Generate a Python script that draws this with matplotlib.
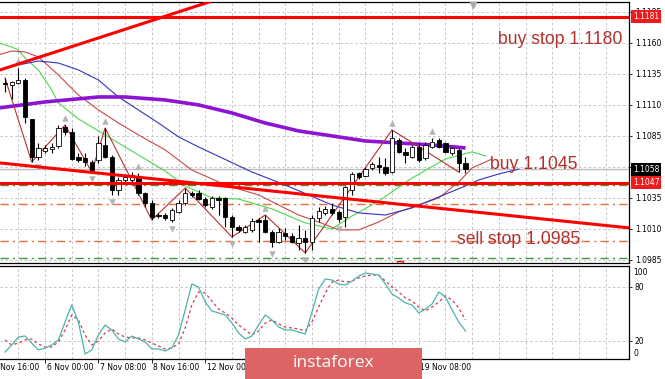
import numpy as np
import matplotlib
matplotlib.use("Agg")
import matplotlib.pyplot as plt
from matplotlib.patches import Rectangle
from matplotlib.transforms import blended_transform_factory, ScaledTranslation

# ---------------- data ----------------
opens = [1.11275, 1.11259, 1.11275, 1.11299, 1.10985, 1.10678, 1.10727, 1.10743, 1.10767, 1.10920,
         1.10880, 1.10678, 1.10670, 1.10638, 1.10654, 1.10775, 1.10678, 1.10412, 1.10493, 1.10493,
         1.10517, 1.10388, 1.10307, 1.10210, 1.10210, 1.10170, 1.10235, 1.10307, 1.10388, 1.10388,
         1.10339, 1.10275, 1.10348, 1.10348, 1.10194, 1.10114, 1.10073, 1.10090, 1.10170, 1.10170,
         1.10073, 1.09993, 1.10065, 1.10041, 1.09985, 1.10025, 1.09993, 1.10186, 1.10227, 1.10259,
         1.10235, 1.10194, 1.10412, 1.10549, 1.10525, 1.10590, 1.10614, 1.10598, 1.10557, 1.10815,
         1.10719, 1.10678, 1.10759, 1.10670, 1.10759, 1.10815, 1.10791, 1.10710, 1.10735, 1.10630]
highs = [1.11315, 1.11291, 1.11396, 1.11315, 1.10985, 1.10791, 1.10775, 1.10791, 1.10936, 1.10936,
         1.10912, 1.10710, 1.10710, 1.10654, 1.10848, 1.10912, 1.10694, 1.10517, 1.10541, 1.10557,
         1.10549, 1.10396, 1.10331, 1.10227, 1.10227, 1.10267, 1.10331, 1.10428, 1.10404, 1.10412,
         1.10356, 1.10364, 1.10364, 1.10356, 1.10210, 1.10130, 1.10130, 1.10186, 1.10186, 1.10210,
         1.10090, 1.10106, 1.10106, 1.10065, 1.10130, 1.10090, 1.10210, 1.10275, 1.10283, 1.10307,
         1.10251, 1.10444, 1.10557, 1.10557, 1.10598, 1.10638, 1.10678, 1.10670, 1.10896, 1.10831,
         1.10751, 1.10775, 1.10791, 1.10799, 1.10831, 1.10831, 1.10799, 1.10759, 1.10751, 1.10678]
lows = [1.11202, 1.11146, 1.11267, 1.10952, 1.10638, 1.10654, 1.10710, 1.10710, 1.10751, 1.10856,
        1.10654, 1.10638, 1.10606, 1.10557, 1.10630, 1.10670, 1.10372, 1.10372, 1.10477, 1.10477,
        1.10372, 1.10275, 1.10170, 1.10186, 1.10170, 1.10154, 1.10227, 1.10291, 1.10356, 1.10331,
        1.10275, 1.10259, 1.10210, 1.10114, 1.10033, 1.10073, 1.10065, 1.10073, 1.09993, 1.10065,
        1.09952, 1.09985, 1.10009, 1.09985, 1.09928, 1.09904, 1.09928, 1.10154, 1.10210, 1.10210,
        1.10154, 1.10114, 1.10372, 1.10501, 1.10517, 1.10573, 1.10549, 1.10533, 1.10549, 1.10710,
        1.10630, 1.10670, 1.10638, 1.10654, 1.10751, 1.10751, 1.10710, 1.10694, 1.10557, 1.10549]
closes = [1.11267, 1.11283, 1.11299, 1.11001, 1.10678, 1.10751, 1.10751, 1.10759, 1.10912, 1.10880,
          1.10662, 1.10654, 1.10638, 1.10573, 1.10791, 1.10678, 1.10412, 1.10493, 1.10517, 1.10533,
          1.10388, 1.10307, 1.10194, 1.10202, 1.10186, 1.10251, 1.10307, 1.10388, 1.10372, 1.10339,
          1.10291, 1.10348, 1.10331, 1.10194, 1.10114, 1.10090, 1.10114, 1.10162, 1.10154, 1.10073,
          1.09993, 1.10073, 1.10041, 1.09993, 1.10025, 1.09993, 1.10186, 1.10243, 1.10259, 1.10227,
          1.10178, 1.10436, 1.10541, 1.10517, 1.10581, 1.10622, 1.10598, 1.10549, 1.10831, 1.10719,
          1.10694, 1.10759, 1.10654, 1.10775, 1.10799, 1.10759, 1.10719, 1.10751, 1.10630, 1.10581]

# moving averages (bar index, price)
ma_purple_idx = [-1, 6, 14, 18, 24, 29, 34, 39, 44, 49, 54, 59, 64, 69]
ma_purple = [1.11073, 1.11122, 1.11162, 1.11162, 1.11138, 1.11098, 1.11033, 1.10952, 1.10888,
             1.10848, 1.10807, 1.10791, 1.10775, 1.10751]
ma_blue_idx = [-1, 2, 5, 8, 11, 14, 17, 20, 23, 26, 29, 37, 42, 49, 53, 57, 61, 65, 69, 71, 74, 77]
ma_blue = [1.11380, 1.11420, 1.11452, 1.11436, 1.11380, 1.11299, 1.11162, 1.11057, 1.10952, 1.10840,
           1.10759, 1.10557, 1.10452, 1.10291, 1.10227, 1.10210, 1.10267, 1.10356, 1.10444, 1.10493,
           1.10541, 1.10581]
ma_green_idx = [-1, 1, 2, 3, 5, 7, 8, 11, 14, 17, 20, 24, 27, 31, 35, 40, 45, 49, 52, 56, 61, 66, 70, 72]
ma_green = [1.11598, 1.11565, 1.11541, 1.11477, 1.11380, 1.11219, 1.11114, 1.10985, 1.10888, 1.10791,
            1.10694, 1.10565, 1.10444, 1.10348, 1.10339, 1.10259, 1.10146, 1.10098, 1.10202, 1.10323,
            1.10509, 1.10662, 1.10719, 1.10686]
ma_red_idx = [-1, 1, 3, 5, 8, 11, 14, 17, 20, 24, 28, 33, 38, 44, 47, 50, 53, 56, 59, 65, 68, 70, 73]
ma_red = [1.11501, 1.11533, 1.11525, 1.11485, 1.11340, 1.11178, 1.11057, 1.10952, 1.10856, 1.10735,
          1.10573, 1.10452, 1.10372, 1.10210, 1.10154, 1.10090, 1.10090, 1.10154, 1.10235, 1.10348,
          1.10477, 1.10590, 1.10662]

# zigzag
zz_idx = [0, 4, 9, 13, 15, 22, 27, 34, 39, 45, 58, 68]
zz_price = [1.11315, 1.10638, 1.10936, 1.10557, 1.10912, 1.10170, 1.10428, 1.10033, 1.10210,
            1.09904, 1.10896, 1.10557]

# fractals
fractal_up_idx = [2, 9, 15, 20, 39, 58, 64]
fractal_down_idx = [5, 13, 16, 25, 34, 40, 45, 50]

# levels
red_levels = [1.1181, 1.1047]
bid_level = 1.1058
green_levels = [1.1045, 1.0986]
orange_levels = [1.1030, 1.1000]
trend_down = [(-0.75, 1.10630), (93.55, 1.10106)]
trend_up = [(-0.75, 1.11380), (29.2, 1.11904)]

price_ticks = [1.0985, 1.1010, 1.1035, 1.1060, 1.1085, 1.1110, 1.1135, 1.1160, 1.1185]

# stochastic
stoch_main = [7.4, 15.2, 24.1, 25.2, 17.4, 9.7, 11.9, 15.2, 20.8, 40.8,
              59.7, 40.8, 5.2, 9.7, 26.3, 37.4, 31.9, 21.9, 18.6, 25.2,
              21.9, 18.6, 10.8, 10.8, 8.6, 11.9, 26.3, 54.1, 83.0, 79.7,
              63.0, 53.0, 50.8, 48.6, 39.7, 28.6, 21.9, 25.2, 37.4, 48.6,
              43.0, 35.2, 31.9, 31.9, 29.7, 27.4, 51.9, 77.4, 88.6, 87.4,
              83.0, 81.9, 86.3, 91.9, 95.2, 94.1, 93.0, 83.0, 71.9, 67.4,
              61.9, 59.7, 50.8, 55.2, 60.8, 74.1, 68.6, 54.1, 40.8, 30.8]
stoch_signal = [20.8, 15.2, 17.4, 20.8, 21.9, 16.3, 13.0, 13.0, 18.6, 31.9,
                48.6, 43.0, 26.3, 15.2, 19.7, 28.6, 33.0, 27.4, 24.1, 23.0,
                23.0, 20.8, 17.4, 14.1, 10.8, 11.9, 16.3, 34.1, 59.7, 74.1,
                73.0, 64.1, 55.2, 50.8, 45.2, 37.4, 31.9, 26.3, 30.8, 39.7,
                43.0, 38.6, 35.2, 34.1, 33.0, 30.8, 40.8, 57.4, 73.0, 85.2,
                87.4, 85.2, 86.3, 89.7, 91.9, 93.0, 93.0, 86.3, 79.7, 74.1,
                67.4, 64.1, 57.4, 53.0, 57.4, 63.0, 69.7, 65.2, 56.3, 43.0]

time_label_idx = [-2, 6, 14, 22, 30, 38, 46, 54, 62]
time_labels = ["2 Nov 16:00", "6 Nov 00:00", "7 Nov 08:00", "8 Nov 16:00", "12 Nov 00:00",
               "13 Nov 08:00", "14 Nov 16:00", "16 Nov 00:00", "19 Nov 08:00"]

# ---------------- figure ----------------
W, H = 665, 379
fig = plt.figure(figsize=(W / 100, H / 100), dpi=100)
fig.patch.set_facecolor("white")


def fx(px):
    return px / W


def fy(py):
    return 1 - py / H


AX_R = 629.3
ax = fig.add_axes([0, fy(263), fx(AX_R), fy(2) - fy(263)])
ax2 = fig.add_axes([0, fy(358.5), fx(AX_R), fy(266) - fy(358.5)])

XMIN, XMAX = -0.75, 93.55
n = len(opens)
xs = np.arange(n)

grid_kw = dict(color="#c4c4c4", lw=0.7, ls=(0, (2.5, 2.5)), zorder=0)
vgrid = np.arange(2, 94, 4)
for a in (ax, ax2):
    for g in vgrid:
        a.axvline(g, **grid_kw)
    a.set_xlim(XMIN, XMAX)
    a.set_facecolor("white")
    for s in ("top", "bottom", "right"):
        a.spines[s].set_color("black")
        a.spines[s].set_linewidth(0.9)
    a.spines["left"].set_visible(False)

for lv in price_ticks:
    ax.axhline(lv, **grid_kw)

ax.set_ylim(1.09823, 1.11928)

# levels
for lv in orange_levels:
    ax.axhline(lv, color="#e8703a", lw=1.0, ls=(0, (6, 3, 1.5, 3)), zorder=1)
for lv in green_levels:
    ax.axhline(lv, color="#3c9a3c", lw=1.0, ls=(0, (6, 3, 1.5, 3)), zorder=1)
ax.axhline(bid_level, color="#bdbdbd", lw=1.0, zorder=1)

# moving averages
ax.plot(ma_green_idx, ma_green, color="#4cd84c", lw=0.8, zorder=2)
ax.plot(ma_red_idx, ma_red, color="#c84848", lw=0.8, zorder=2)
ax.plot(ma_blue_idx, ma_blue, color="#3434c0", lw=0.8, zorder=2)
ax.plot(ma_purple_idx, ma_purple, color="#8c14d2", lw=2.6, zorder=2, solid_capstyle="butt")

# zigzag
ax.plot(zz_idx, zz_price, color="#b83030", lw=0.8, zorder=3)

# candles
for i in range(n):
    o, h, l, c = opens[i], highs[i], lows[i], closes[i]
    ax.plot([i, i], [l, h], color="black", lw=0.8, zorder=4, solid_capstyle="butt")
bull = [c >= o for o, c in zip(opens, closes)]
bottoms = [min(o, c) for o, c in zip(opens, closes)]
heights = [max(abs(c - o), 0.000015) for o, c in zip(opens, closes)]
ax.bar(xs, heights, bottom=bottoms, width=0.64,
       color=["white" if b else "black" for b in bull],
       edgecolor="black", linewidth=0.6, zorder=5)

# fractals
FR_OFF = 0.00055
ax.scatter(fractal_up_idx, [highs[i] + FR_OFF for i in fractal_up_idx], marker="^",
           s=22, color="#b4b4b4", zorder=6, linewidths=0)
ax.scatter(fractal_down_idx, [lows[i] - FR_OFF for i in fractal_down_idx], marker="v",
           s=22, color="#b4b4b4", zorder=6, linewidths=0)

# red lines
for lv in red_levels:
    ax.axhline(lv, color="#ff0000", lw=2.2, zorder=7)
ax.axline(trend_down[0], trend_down[1], color="#ff0000", lw=2.2, zorder=7)
ax.axline(trend_up[0], trend_up[1], color="#ff0000", lw=2.2, zorder=7)

# small markers
ax.scatter([70.2], [1.11904], marker="v", s=18, color="#a8a8a8", zorder=8, clip_on=False)
ax.scatter([59.2], [1.09815], marker="s", s=22, facecolor="none", edgecolor="#ff0000",
           linewidths=1.0, zorder=8)

# y axis right
ax.yaxis.tick_right()
ax.set_yticks(price_ticks)
ax.set_yticklabels(["%.4f" % v for v in price_ticks])
ax.tick_params(axis="y", labelsize=5.5, length=2.5, width=0.6, pad=1.5, colors="black")
ax.set_xticks([])

bt = blended_transform_factory(ax.transAxes, ax.transData)
box_specs = [(1.1181, "1.1181", "#ee1c1c"), (1.1058, "1.1058", "black"), (1.1047, "1.1047", "#ee1c1c")]
for val, txt, col in box_specs:
    ax.text(1.0 + 3.5 / AX_R, val, txt, transform=bt, ha="left", va="center", fontsize=5.5,
            color="white", zorder=20, clip_on=False,
            bbox=dict(boxstyle="square,pad=0.25", fc=col, ec="none"))

# annotations
tc = "#b3302e"
fs = 12.7
fig.text(fx(498), fy(39.5), "buy stop 1.1180", color=tc, fontsize=fs, family="Liberation Sans",
         ha="left", va="center")
fig.text(fx(490), fy(164.5), "buy 1.1045", color=tc, fontsize=fs, family="Liberation Sans",
         ha="left", va="center")
fig.text(fx(457), fy(239.5), "sell stop 1.0985", color=tc, fontsize=fs, family="Liberation Sans",
         ha="left", va="center", zorder=0)

# ---------------- stochastic ----------------
ax2.set_ylim(0.2, 103)
for lv in (20, 80):
    ax2.axhline(lv, **grid_kw)
ax2.plot(xs, stoch_signal, color="#d23c50", lw=0.9, ls=(0, (2.2, 2.2)), zorder=3)
ax2.plot(xs, stoch_main, color="#4cb4aa", lw=0.9, zorder=4)
ax2.yaxis.tick_right()
ax2.set_yticks([20, 80])
ax2.set_yticklabels(["20", "80"])
ax2.tick_params(axis="y", labelsize=5.5, length=2.5, width=0.6, pad=1.5, colors="black")
bt2 = blended_transform_factory(ax2.transAxes, fig.transFigure)
ax2.text(1.0 + 4 / AX_R, fy(272.7), "100", transform=bt2, ha="left", va="center", fontsize=5.5,
         clip_on=False)
ax2.text(1.0 + 4 / AX_R, fy(353.3), "0", transform=bt2, ha="left", va="center", fontsize=5.5,
         clip_on=False)

ax2.set_xticks(time_label_idx[1:])
ax2.set_xticklabels([])
ax2.tick_params(axis="x", length=3, width=0.6, direction="out", colors="black")
bx = blended_transform_factory(ax2.transData, fig.transFigure) + ScaledTranslation(1.5 / 100, 0, fig.dpi_scale_trans)
for k, lab in zip(time_label_idx, time_labels):
    ax2.text(k, fy(367.5), lab, transform=bx, ha="left", va="center", fontsize=5.5, clip_on=False)

# watermark
wm = Rectangle((fx(245), fy(379)), fx(422) - fx(245), fy(348) - fy(379), transform=fig.transFigure,
               facecolor="#dc6464", edgecolor="none", zorder=30)
fig.add_artist(wm)
fig.text(fx(333), fy(363), "instaforex", color="white", fontsize=12.5, family="Open Sans",
         ha="center", va="center", zorder=31)

fig.savefig("out.png", dpi=100, facecolor="white")
